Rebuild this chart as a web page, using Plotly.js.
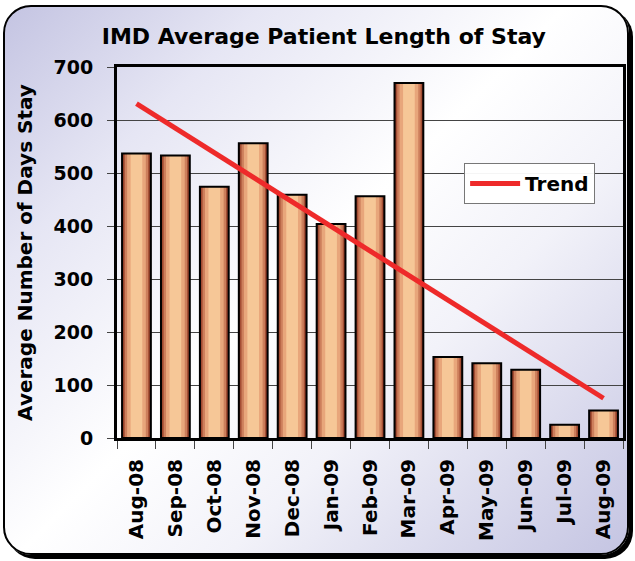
<!DOCTYPE html>
<html>
<head>
<meta charset="utf-8">
<script src="https://cdn.plot.ly/plotly-3.0.1.min.js"></script>
<style>
  html, body { margin: 0; padding: 0; background: #ffffff; }
  #wrap { position: relative; width: 635px; height: 561px; overflow: hidden; }
  #frame {
    position: absolute; left: 3px; top: 5px; width: 622px; height: 546px;
    border: 2px solid #000; border-radius: 28px;
    box-shadow: 4px 4px 0 #000;
    background: linear-gradient(135deg, #c4c4e2 0%, #e6e6f4 22%, #ffffff 48%, #f2f2f9 66%, #c4c4e2 100%);
  }
  #chart { position: absolute; left: 0; top: 0; width: 635px; height: 561px; }
</style>
</head>
<body>
<div id="wrap">
  <div id="frame"></div>
  <div id="chart"></div>
</div>
<script>
// ---- data ----
const months = ['Aug-08','Sep-08','Oct-08','Nov-08','Dec-08','Jan-09','Feb-09','Mar-09','Apr-09','May-09','Jun-09','Jul-09','Aug-09'];
const avgDays = [537, 533, 474, 556, 459, 404, 456, 670, 153, 141, 129, 25, 52];
const trendMonths = ['Aug-08', 'Aug-09'];
const trendValues = [631, 75];
const yTicks = [0, 100, 200, 300, 400, 500, 600, 700];

const FONT = 'DejaVu Sans, Arial, sans-serif';

// layered bars to imitate the cylinder-like gradient fill
const layers = [
  {w: 0.74, c: '#7e2a1a'},
  {w: 0.68, c: '#a44e34'},
  {w: 0.60, c: '#cd7f5c'},
  {w: 0.48, c: '#e8a67b'},
  {w: 0.30, c: '#f6c797'}
];
const traces = layers.map(l => ({
  type: 'bar', x: months, y: avgDays, width: l.w,
  marker: {color: l.c, line: {width: 0}},
  showlegend: false, hoverinfo: 'skip'
}));
traces.push({
  type: 'bar', x: months, y: avgDays, width: 0.74,
  marker: {color: 'rgba(0,0,0,0)', line: {color: '#000', width: 2}},
  showlegend: false, hoverinfo: 'skip'
});
traces.push({
  type: 'scatter', mode: 'lines', x: trendMonths, y: trendValues,
  name: 'Trend', line: {color: '#ee2a2a', width: 5}
});

const layout = {
  width: 635, height: 561,
  paper_bgcolor: 'rgba(0,0,0,0)',
  plot_bgcolor: 'rgba(0,0,0,0)',
  margin: {l: 117, r: 12, t: 67, b: 123},
  barmode: 'overlay',
  title: {
    text: 'IMD Average Patient Length of Stay',
    font: {family: FONT, size: 22, weight: 'bold', color: '#000'},
    xref: 'container', x: 0.51, xanchor: 'center',
    yref: 'container', y: 0.935, yanchor: 'middle'
  },
  xaxis: {
    type: 'category', categoryorder: 'array', categoryarray: months,
    tickangle: -90, ticks: 'outside', tickson: 'boundaries', ticklen: 8,
    tickcolor: '#444', tickwidth: 1,
    tickfont: {family: FONT, size: 20, weight: 'bold', color: '#000'},
    ticklabelstandoff: 10,
    showline: true, linecolor: '#000', linewidth: 3, mirror: true,
    showgrid: false, zeroline: false
  },
  yaxis: {
    range: [0, 700], tickvals: yTicks, ticktext: yTicks.map(String),
    ticks: 'outside', ticklen: 7, tickcolor: '#444', tickwidth: 1,
    tickfont: {family: FONT, size: 19, weight: 'bold', color: '#000'},
    ticklabelstandoff: 10,
    showgrid: true, gridcolor: '#444', gridwidth: 1,
    showline: true, linecolor: '#000', linewidth: 3, mirror: true,
    zeroline: false,
    title: {
      text: 'Average Number of Days Stay',
      font: {family: FONT, size: 20, weight: 'bold', color: '#000'},
      standoff: 16
    }
  },
  legend: {
    x: 0.686, y: 0.741, xanchor: 'left', yanchor: 'top',
    bgcolor: 'rgba(255,255,255,0.95)', bordercolor: '#777', borderwidth: 1,
    itemwidth: 50, entrywidth: 130,
    font: {family: FONT, size: 20, weight: 'bold', color: '#000'}
  },
  showlegend: true
};

Plotly.newPlot('chart', traces, layout, {staticPlot: true, displayModeBar: false});
</script>
</body>
</html>
